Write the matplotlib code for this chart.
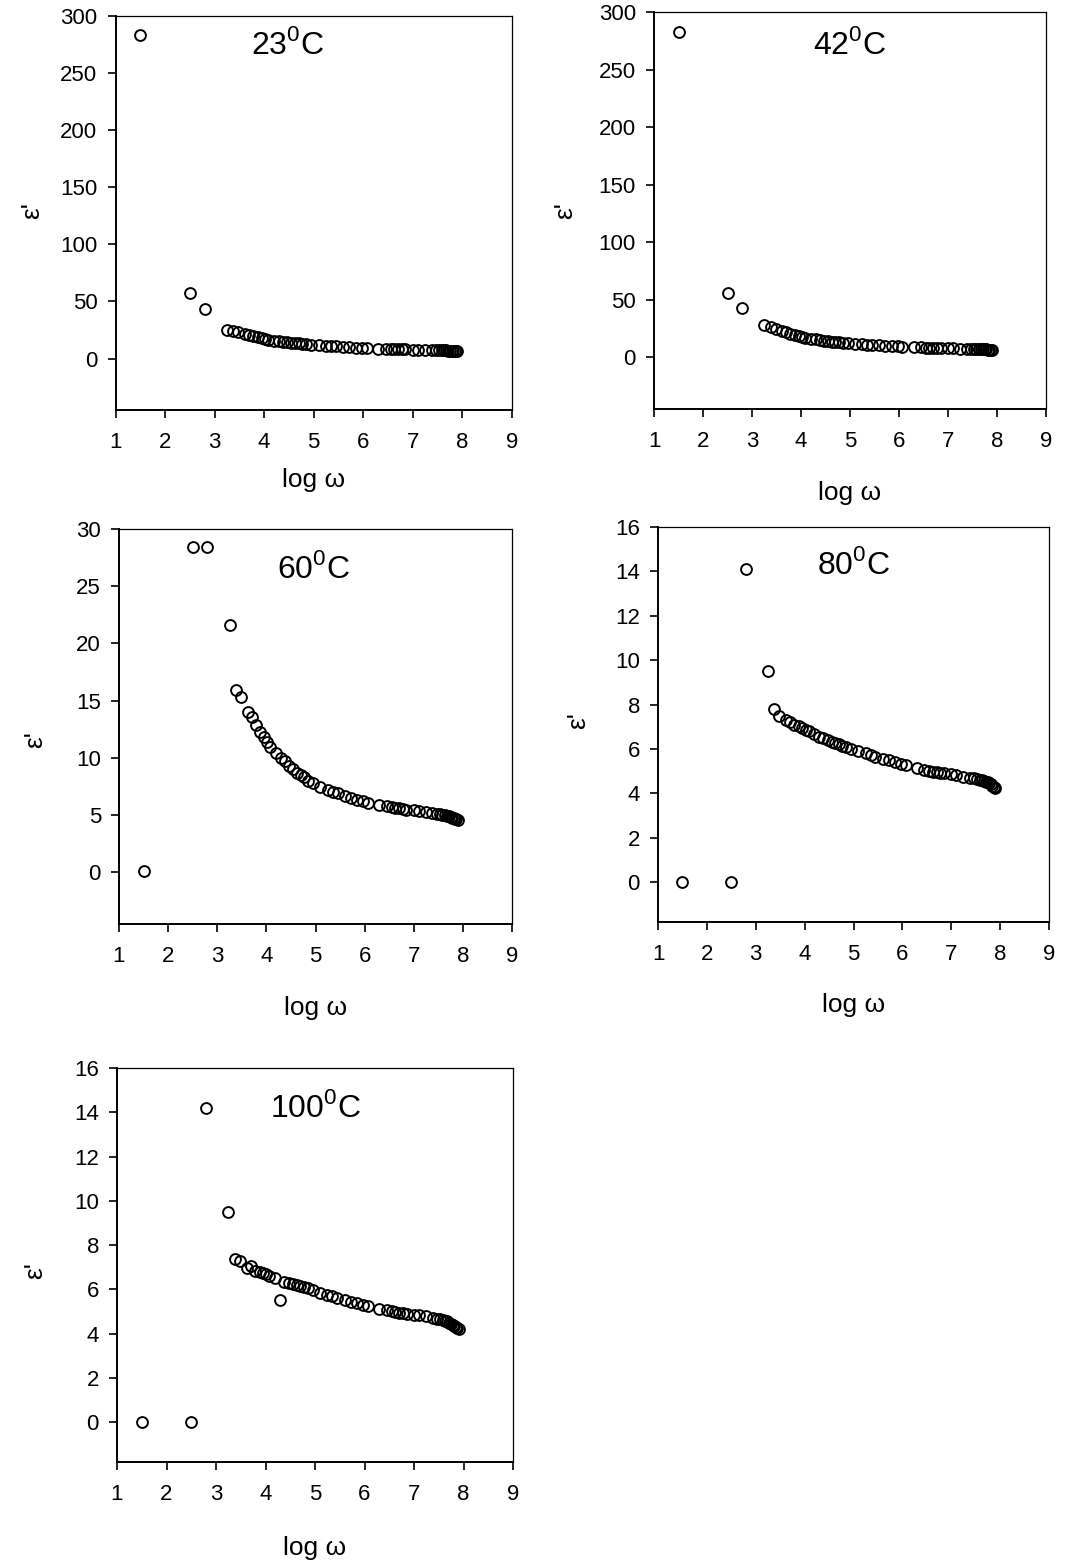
import matplotlib
matplotlib.use('Agg')
import matplotlib.pyplot as plt

# shared measurement grid (log of angular frequency)
log_w = [1.5, 2.5, 2.8, 3.25, 3.38, 3.48, 3.62, 3.7, 3.78, 3.88, 3.95, 4.02, 4.08,
         4.2, 4.3, 4.38, 4.47, 4.55, 4.63, 4.7, 4.77, 4.85, 4.95, 5.1, 5.25, 5.35,
         5.45, 5.6, 5.72, 5.85, 5.97, 6.07, 6.3, 6.45, 6.55, 6.62, 6.7, 6.78, 6.85,
         7.0, 7.1, 7.25, 7.38, 7.47, 7.53, 7.58, 7.63, 7.67, 7.71, 7.75, 7.78, 7.81,
         7.84, 7.87, 7.9]

eps_23 = [283, 57, 43, 25, 24.5, 23, 21.5, 20.5, 19.5, 18.5, 17.8, 17, 16.5, 15.8,
          15.2, 14.8, 14.3, 13.9, 13.5, 13.2, 12.9, 12.6, 12.2, 11.7, 11.2, 10.9,
          10.6, 10.2, 9.9, 9.6, 9.4, 9.2, 8.8, 8.6, 8.4, 8.3, 8.2, 8.1, 8.0, 7.9,
          7.8, 7.6, 7.5, 7.4, 7.3, 7.25, 7.2, 7.1, 7.05, 7.0, 6.9, 6.8, 6.7, 6.6, 6.5]

eps_42 = [283, 56, 43, 28, 26, 24.5, 22.5, 21.5, 20.5, 19.5, 18.6, 17.8, 17.1, 16.2,
          15.5, 15, 14.5, 14, 13.6, 13.3, 13, 12.7, 12.3, 11.7, 11.2, 10.9, 10.6,
          10.2, 9.9, 9.6, 9.4, 9.2, 8.8, 8.6, 8.4, 8.3, 8.2, 8.1, 8.0, 7.8, 7.7,
          7.5, 7.4, 7.3, 7.2, 7.15, 7.1, 7.0, 6.95, 6.9, 6.8, 6.7, 6.6, 6.5, 6.4]

eps_60 = [0.1, 28.4, 28.4, 21.6, 15.9, 15.3, 14.0, 13.6, 12.9, 12.3, 11.8, 11.4,
          11.0, 10.4, 10.0, 9.7, 9.3, 9.0, 8.7, 8.5, 8.3, 8.0, 7.8, 7.5, 7.2, 7.0,
          6.9, 6.7, 6.5, 6.3, 6.2, 6.1, 5.9, 5.8, 5.7, 5.65, 5.6, 5.55, 5.5, 5.45,
          5.4, 5.3, 5.2, 5.15, 5.1, 5.05, 5.0, 4.95, 4.9, 4.85, 4.8, 4.75, 4.7,
          4.65, 4.6]

eps_80 = [0, 0, 14.1, 9.5, 7.8, 7.5, 7.3, 7.2, 7.1, 7.05, 6.95, 6.85, 6.8, 6.65,
          6.55, 6.5, 6.4, 6.3, 6.25, 6.2, 6.15, 6.1, 6.0, 5.9, 5.8, 5.72, 5.65,
          5.55, 5.5, 5.4, 5.32, 5.27, 5.15, 5.05, 5.0, 4.98, 4.95, 4.92, 4.9,
          4.85, 4.82, 4.75, 4.7, 4.67, 4.65, 4.62, 4.6, 4.57, 4.53, 4.5, 4.45,
          4.4, 4.35, 4.3, 4.25]

eps_100 = [0, 0, 14.2, 9.5, 7.35, 7.3, 6.95, 7.05, 6.85, 6.8, 6.75, 6.7, 6.6, 6.5,
           5.5, 6.35, 6.3, 6.25, 6.2, 6.15, 6.1, 6.05, 5.95, 5.85, 5.75, 5.7, 5.62,
           5.52, 5.45, 5.38, 5.3, 5.25, 5.12, 5.05, 5.0, 4.98, 4.95, 4.93, 4.9,
           4.85, 4.82, 4.78, 4.72, 4.68, 4.65, 4.62, 4.58, 4.55, 4.5, 4.45, 4.4,
           4.35, 4.3, 4.25, 4.2]

temps = ['23', '42', '60', '80', '100']
series = [eps_23, eps_42, eps_60, eps_80, eps_100]
y_limits = [(-45, 300), (-45, 300), (-4.5, 30), (-1.8, 16), (-1.8, 16)]
y_ticks = [range(0, 301, 50), range(0, 301, 50), range(0, 31, 5),
           range(0, 17, 2), range(0, 17, 2)]

W, H = 1066, 1566
# axes boxes in pixels: left, right, top, bottom
boxes = [(115.5, 512, 15.7, 410), (654, 1046, 12, 409), (119, 512, 529, 924),
         (658, 1049, 527, 922), (117, 513, 1068, 1462)]
title_pos = [(0.433, 0.926), (0.5, 0.917), (0.494, 0.90), (0.5, 0.904), (0.5, 0.898)]
xlabel_y = [-0.1775, -0.2116, -0.2127, -0.21, -0.218]
ylabel_pos = [(-0.21, 0.507), (-0.227, 0.50), (-0.214, 0.466), (-0.205, 0.511), (-0.207, 0.487)]

plt.rcParams['font.family'] = ['Liberation Sans', 'DejaVu Sans']
plt.rcParams['mathtext.fontset'] = 'custom'
plt.rcParams['mathtext.rm'] = 'Liberation Sans'

fig = plt.figure(figsize=(W / 100, H / 100), dpi=100)

for i, temp in enumerate(temps):
    l, r, t, b = boxes[i]
    ax = fig.add_axes([l / W, 1 - b / H, (r - l) / W, (b - t) / H])
    ax.plot(log_w, series[i], linestyle='none', marker='o', markersize=7.8,
            markerfacecolor='none', markeredgecolor='black', markeredgewidth=1.4)
    ax.set_xlim(1, 9)
    ax.set_ylim(*y_limits[i])
    ax.set_xticks(range(1, 10))
    ax.set_yticks(list(y_ticks[i]))
    ax.tick_params(direction='out', length=6, width=1.2, labelsize=16, colors='black')
    ax.tick_params(axis='x', pad=10)
    ax.tick_params(axis='y', pad=7)
    for side in ['left', 'bottom']:
        ax.spines[side].set_linewidth(1.4)
    for side in ['top', 'right']:
        ax.spines[side].set_linewidth(0.9)
    ax.text(title_pos[i][0], title_pos[i][1], temp + r'$^{\mathrm{0}}$C',
            transform=ax.transAxes, ha='center', va='center', fontsize=23)
    ax.set_xlabel('log ω', fontsize=19, va='center')
    ax.xaxis.set_label_coords(0.5, xlabel_y[i])
    ax.set_ylabel("ε'", fontsize=19, va='center', rotation=90)
    ax.yaxis.set_label_coords(*ylabel_pos[i])

fig.savefig('out.png', dpi=100)
